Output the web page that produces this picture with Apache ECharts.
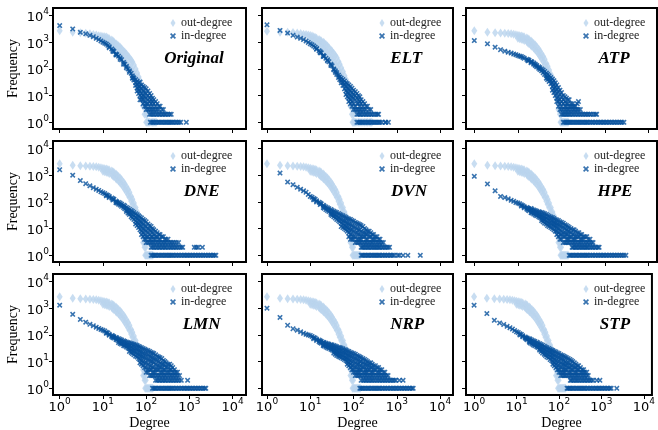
<!DOCTYPE html>
<html>
<head>
<meta charset="utf-8">
<script src="https://cdn.jsdelivr.net/npm/echarts@6/dist/echarts.min.js"></script>
<style>
  html, body { margin: 0; padding: 0; background: #fff; }
  #chart { width: 658px; height: 430px; }
</style>
</head>
<body>
<div id="chart"></div>
<script>
// Degree distributions.
// Columns are [degree, [frequencies seen at that degree]];
// "...Twos" / "...Ones" list the degrees whose frequency is 2 / 1.

const tickValues = [1, 10, 100, 1000, 10000];
const panelNames = ["Original", "ELT", "ATP", "DNE", "DVN", "HPE", "LMN", "NRP", "STP"];

const originalOut = [
  [1, [2700]], [2, [2350]], [3, [2250]], [4, [2150]], [5, [2050]], [6, [1950]], [7, [1850]], [8, [1750]], [9, [1700]],
  [10, [1650, 1300]], [11, [1600, 1200]], [12, [1550, 1100]], [13, [1450, 1000]], [14, [1350, 900]], [16, [1200, 750]],
  [17, [1100, 680]], [18, [1020, 600]], [20, [880, 500]], [21, [820, 460]], [23, [740, 400]], [25, [650, 350]],
  [27, [570, 300]], [30, [470, 240]], [32, [420, 210]], [35, [360, 170]], [38, [300, 140]], [41, [260, 120]],
  [45, [210, 95]], [48, [180, 80]], [52, [140, 65]], [57, [100, 50]], [62, [70, 35]], [67, [50, 25]], [72, [36, 16]],
  [78, [24, 10]], [85, [14, 6, 4]], [92, [9, 4, 2]], [100, [5, 3, 2]], [105, [2]]
];
const originalOutOnes = [100, 105, 110, 115, 120, 130, 140, 150, 160, 170];

const originalIn = [
  [1, [4200]], [2, [3150]], [3, [2350]], [4, [2050]], [5, [1800]], [6, [1600]], [7, [1400]], [8, [1250]], [9, [1120]], [10, [1000]],
  [11, [920]], [12, [850]], [13, [760]], [14, [680, 620]], [16, [560]], [17, [500, 450]], [18, [450]], [20, [365, 330]],
  [21, [340]], [23, [300]], [25, [260, 230]], [27, [220]], [30, [175, 150]], [32, [150]], [35, [125, 110]], [38, [100]],
  [41, [85, 75]], [45, [68]], [48, [55, 45]], [50, [48]], [52, [45, 38]], [57, [40, 30, 24]], [62, [35, 26, 19, 15]],
  [67, [30, 22, 16, 12]], [72, [32, 22, 15, 10, 7]], [78, [25, 18, 12, 9, 7]], [85, [22, 15, 10, 7, 5]],
  [92, [20, 13, 9, 6, 4]], [100, [18, 12, 8, 5, 4, 3]], [110, [15, 10, 7, 5, 3]], [120, [12, 8, 6, 4, 3]],
  [130, [10, 7, 5, 3]], [140, [8, 6, 4, 3]], [150, [7, 5, 3]], [165, [6, 4, 3]], [180, [5, 3]], [195, [4, 3]],
  [210, [4]], [230, [3]], [250, [3]]
];
const originalInTwos = [120, 130, 140, 150, 165, 180, 195, 210, 230, 250, 270, 290, 320, 350, 380];
const originalInOnes = [125, 135, 145, 155, 170, 185, 200, 215, 230, 250, 270, 290, 310, 335, 360, 385, 410, 450, 490, 530, 580, 630, 850];

const eltOut = [
  [1, [2570]], [2, [2350]], [3, [2350]], [4, [2300]], [5, [2200]], [6, [2100]], [7, [2000]], [8, [1950]], [9, [1850]],
  [10, [1780, 1350]], [11, [1700, 1250]], [12, [1600, 1150]], [13, [1500, 1050]], [14, [1400, 950]], [16, [1250, 820]],
  [17, [1150, 740]], [18, [1100, 680]], [20, [1000, 560]], [21, [930, 520]], [23, [820, 450]], [25, [720, 380]],
  [27, [620, 320]], [30, [510, 260]], [32, [450, 225]], [35, [380, 180]], [38, [310, 145]], [41, [260, 120]],
  [45, [190, 90]], [48, [150, 72]], [52, [110, 56]], [57, [80, 40]], [62, [56, 28]], [67, [40, 18]], [72, [28, 12]],
  [78, [18, 8]], [85, [12, 6, 4]], [92, [7, 4, 2]], [100, [4, 3, 2]]
];
const eltOutOnes = [95, 100, 105, 110, 120, 130, 140, 150, 165, 180, 195, 210, 230, 250, 265];

const eltIn = [
  [1, [4450]], [2, [2750]], [3, [2200]], [4, [1800]], [5, [1550]], [6, [1400]], [7, [1250]], [8, [1100]], [9, [980]], [10, [870]],
  [11, [800]], [12, [720]], [13, [650]], [14, [580, 540]], [16, [480]], [17, [440, 400]], [18, [400]], [20, [320, 290]],
  [21, [300]], [23, [250]], [25, [220, 200]], [27, [185]], [30, [150, 135]], [32, [130]], [35, [100, 92]], [38, [85, 75]],
  [41, [72, 62]], [45, [58, 48]], [48, [50, 40]], [52, [45, 36, 30]], [57, [40, 30, 24]], [62, [35, 26, 18]],
  [67, [30, 22, 15, 11]], [72, [28, 19, 13, 9]], [78, [25, 17, 12, 8, 6]], [85, [22, 15, 10, 7, 5]],
  [92, [19, 13, 9, 6, 4]], [100, [16, 11, 8, 5, 3]], [110, [14, 10, 7, 4, 3]], [120, [12, 8, 5, 3]],
  [130, [10, 7, 5, 3]], [140, [9, 6, 4, 3]], [150, [7, 5, 3]], [165, [6, 4, 3]], [180, [5, 3]], [195, [4, 3]],
  [210, [4]], [230, [3]], [250, [3]]
];
const eltInTwos = [120, 130, 140, 150, 165, 180, 195, 210, 230, 250, 270, 300, 330, 360, 380];
const eltInOnes = [120, 130, 140, 150, 160, 170, 185, 200, 215, 230, 250, 270, 290, 310, 335, 360, 385, 410, 450, 540, 560, 640];

// out-degree looks the same in every perturbed panel
const perturbedOut = [
  [1, [2700]], [2, [2350]], [3, [2250]], [4, [2200]], [5, [2150]], [6, [2100]], [7, [2050]], [8, [2000]], [9, [1900]],
  [10, [1800, 1400]], [11, [1750, 1350]], [12, [1700, 1300]], [13, [1650, 1250]], [14, [1550, 1150]], [16, [1450, 1050]],
  [17, [1350, 950]], [18, [1250, 880]], [20, [1100, 750]], [21, [1020, 700]], [23, [900, 600]], [25, [780, 520]],
  [27, [680, 450]], [30, [540, 360]], [32, [460, 300]], [35, [360, 240]], [38, [290, 190]], [41, [230, 150]],
  [45, [160, 105]], [48, [125, 82]], [52, [90, 60]], [57, [62, 42]], [62, [42, 28]], [67, [30, 19]], [72, [21, 13]],
  [78, [14, 8]], [85, [8, 5, 3]], [92, [4, 3, 2]], [98, [2]]
];
const perturbedOutOnes = [95, 100, 105, 110, 116, 122, 128, 135, 142];

const atpIn = [
  [1, [1150]], [2, [870]], [3, [650]], [4, [525]], [5, [460]], [6, [420]], [7, [390]], [8, [360]], [9, [340]], [10, [316]],
  [11, [300]], [12, [290]], [13, [270]], [14, [250]], [16, [230]], [17, [220, 200]], [18, [210]], [20, [190, 170]],
  [21, [180]], [23, [165, 150]], [25, [150, 135]], [27, [135, 120]], [30, [120, 105]], [32, [110, 95]], [35, [100, 85]],
  [38, [90, 72]], [41, [80, 62]], [45, [70, 55, 45]], [48, [62, 48, 40]], [52, [55, 42, 34]], [57, [48, 36, 28]],
  [62, [42, 30, 22, 16]], [67, [36, 25, 18, 13]], [72, [30, 21, 15, 10]], [78, [25, 17, 12, 8, 6]],
  [85, [20, 14, 9, 6, 4]], [92, [16, 11, 7, 5, 3]], [100, [13, 9, 6, 4, 3]], [110, [10, 7, 5, 3]], [120, [9, 6, 4, 3]],
  [130, [8, 5, 4, 3]], [140, [7, 5, 3]], [150, [7, 4, 3]], [165, [5, 4, 3]], [180, [5, 4, 3]], [195, [4, 3]],
  [210, [4, 3]], [230, [5, 3]], [245, [6, 3]], [270, [3]]
];
const atpInTwos = [100, 108, 116, 125, 135, 145, 155, 170, 185, 200, 220, 240, 260, 285, 310, 340, 370, 400, 440, 480, 540, 600, 640];
const atpInOnes = [110, 118, 126, 135, 145, 155, 165, 178, 190, 205, 220, 235, 250, 270, 290, 310, 335, 360, 385, 410, 450,
  490, 530, 580, 630, 690, 750, 810, 880, 950, 1030, 1120, 1220, 1330, 1450, 1580, 1720, 1880, 2050, 2250, 2450, 2700];

const dneIn = [
  [1, [1600]], [2, [1000]], [3, [630]], [4, [480]], [5, [400]], [6, [340]], [7, [300]], [8, [270]], [9, [240]], [10, [220]],
  [11, [205]], [12, [185, 170]], [13, [175]], [14, [160, 145]], [16, [140]], [17, [130, 118]], [18, [125]], [20, [107, 95]],
  [21, [100, 90]], [23, [95, 82]], [25, [90, 76]], [27, [82, 68]], [30, [75, 62]], [32, [70, 56]], [35, [62, 50, 44]],
  [38, [58, 46, 38]], [41, [52, 40, 34]], [45, [48, 36, 28]], [48, [44, 33, 25]], [52, [40, 30, 22]],
  [57, [36, 26, 19, 15]], [62, [33, 24, 17, 13]], [67, [30, 21, 15, 11]], [72, [27, 19, 13, 9]], [78, [25, 17, 12, 8, 6]],
  [85, [22, 15, 10, 7, 5]], [92, [20, 13, 9, 6, 4]], [100, [18, 12, 8, 5, 4, 3]], [110, [15, 10, 7, 5, 3]],
  [120, [13, 9, 6, 4, 3]], [130, [12, 8, 5, 4, 3]], [140, [10, 7, 5, 3]], [150, [9, 6, 4, 3]], [165, [8, 5, 4, 3]],
  [180, [7, 5, 3]], [195, [6, 4, 3]], [210, [6, 4, 3]], [230, [5, 3]], [250, [5, 3]], [270, [4, 3]], [290, [4, 3]],
  [320, [4, 3]], [350, [3]], [380, [3]], [410, [3]], [450, [3]], [500, [3]], [560, [3]]
];
const dneInTwos = [130, 140, 150, 165, 180, 195, 210, 230, 250, 270, 290, 320, 350, 380, 410, 450, 490, 530, 590, 650, 700,
  1300, 1450, 1600, 2000];
const dneInOnes = [130, 140, 150, 160, 170, 185, 200, 215, 230, 250, 270, 290, 310, 335, 360, 385, 410, 450, 490, 530, 580,
  630, 690, 750, 810, 880, 950, 1030, 1120, 1220, 1330, 1450, 1580, 1720, 1880, 2050, 2250, 2450, 2700, 2950, 3200, 3500,
  3800, 4100];

const dvnIn = [
  [2, [1200]], [3, [550]], [4, [440]], [5, [350]], [6, [300]], [7, [260]], [8, [230]], [9, [190]], [10, [160]],
  [11, [150]], [12, [135, 120]], [13, [125]], [14, [110, 100]], [16, [98]], [17, [90, 80]], [18, [85]], [20, [75, 62]],
  [21, [70, 58]], [23, [65, 52]], [25, [60, 48]], [27, [56, 44]], [30, [52, 40, 34]], [32, [48, 37, 31]],
  [35, [45, 34, 28]], [38, [42, 31, 25]], [41, [40, 29, 22]], [45, [37, 26, 20]], [48, [34, 24, 18]],
  [52, [32, 22, 16, 12]], [57, [30, 20, 15, 11]], [62, [28, 19, 13, 10]], [67, [26, 17, 12, 9]], [72, [24, 16, 11, 8]],
  [78, [23, 15, 10, 7, 5]], [85, [22, 14, 9, 6, 4]], [92, [20, 13, 9, 6, 4]], [100, [19, 12, 8, 5, 4]],
  [110, [17, 11, 7, 5, 3]], [120, [16, 10, 7, 4, 3]], [130, [15, 9, 6, 4, 3]], [140, [14, 9, 6, 4, 3]],
  [150, [13, 8, 5, 4, 3]], [165, [12, 7, 5, 3]], [180, [10, 7, 5, 3]], [195, [9, 6, 4, 3]], [210, [8, 6, 4, 3]],
  [230, [8, 5, 3]], [250, [7, 5, 3]], [270, [6, 4, 3]], [290, [6, 4, 3]], [320, [5, 4, 3]], [350, [5, 3]],
  [380, [4, 3]], [410, [4, 3]], [450, [3]], [490, [3]]
];
const dvnInTwos = [150, 160, 170, 185, 200, 215, 230, 250, 270, 290, 310, 335, 360, 385, 410, 450, 490, 530, 580, 630, 680];
const dvnInOnes = [150, 160, 170, 185, 200, 215, 230, 250, 270, 290, 310, 335, 360, 385, 410, 450, 490, 530, 580, 630, 690,
  750, 810, 880, 1050, 1150, 1400, 1800, 3500];

const hpeIn = [
  [1, [910]], [2, [470]], [3, [260]], [4, [160]], [5, [145]], [6, [130]], [7, [115]], [8, [105]], [9, [95]], [10, [90]],
  [11, [85]], [12, [78, 70]], [13, [72]], [14, [66, 60]], [16, [62, 54]], [17, [58, 50]], [18, [55, 47]],
  [20, [57, 48, 40]], [21, [52, 44, 38]], [23, [50, 41, 35]], [25, [48, 39, 32]], [27, [45, 37, 30]], [30, [43, 34, 28]],
  [32, [41, 32, 26]], [35, [40, 30, 24, 20]], [38, [38, 28, 22, 18]], [41, [36, 27, 21, 16]], [45, [34, 25, 19, 15]],
  [48, [31, 23, 17, 13]], [52, [29, 21, 16, 12]], [57, [27, 20, 15, 11]], [62, [26, 19, 14, 10]], [67, [24, 17, 13, 9]],
  [72, [22, 16, 12, 8]], [78, [21, 15, 11, 8, 6]], [85, [20, 14, 10, 7, 5]], [92, [18, 13, 9, 6, 4]],
  [100, [17, 12, 8, 6, 4]], [110, [16, 11, 7, 5, 3]], [120, [14, 10, 7, 5, 3]], [130, [13, 9, 6, 4, 3]],
  [140, [12, 8, 6, 4, 3]], [150, [11, 8, 5, 4, 3]], [165, [10, 7, 5, 3]], [180, [9, 6, 4, 3]], [195, [9, 6, 4, 3]],
  [210, [8, 5, 4, 3]], [230, [7, 5, 3]], [250, [7, 5, 3]], [270, [6, 4, 3]], [290, [6, 4, 3]], [320, [5, 4, 3]],
  [350, [5, 3]], [380, [5, 3]], [410, [4, 3]], [450, [4, 3]], [490, [3]], [530, [3]]
];
const hpeInTwos = [175, 185, 200, 215, 230, 250, 270, 290, 310, 335, 360, 385, 410, 450, 490, 530, 580, 630, 690, 730];
const hpeInOnes = [150, 160, 170, 185, 200, 215, 230, 250, 270, 290, 310, 335, 360, 385, 410, 450, 490, 530, 580, 630, 690,
  750, 810, 880, 950, 1030, 1120, 1220, 1330, 1450, 1580, 1720, 1880, 2050, 2250, 2450, 2700, 3000];

const lmnIn = [
  [1, [1300]], [2, [590]], [3, [380]], [4, [300]], [5, [250]], [6, [220]], [7, [195]], [8, [175]], [9, [160]], [10, [150]],
  [11, [140]], [12, [125, 115]], [13, [118]], [14, [105, 98]], [16, [95, 86]], [17, [90, 80]], [18, [85, 76]],
  [20, [80, 68]], [21, [76, 65]], [23, [72, 60, 52]], [25, [68, 56, 48]], [27, [64, 52, 45]], [30, [60, 48, 40]],
  [32, [57, 45, 38]], [35, [54, 42, 35]], [38, [52, 40, 32]], [41, [50, 38, 30, 24]], [45, [48, 35, 27, 22]],
  [48, [46, 33, 25, 20]], [52, [44, 31, 24, 18]], [57, [42, 30, 22, 16]], [62, [40, 28, 20, 15]], [67, [37, 26, 18, 13]],
  [72, [35, 24, 17, 12, 9]], [78, [33, 23, 16, 11, 8]], [85, [31, 21, 15, 10, 7]], [92, [29, 20, 14, 9, 6]],
  [100, [27, 19, 13, 9, 6, 4]], [110, [26, 18, 12, 8, 5, 4]], [120, [24, 16, 11, 7, 5, 3]], [130, [22, 15, 10, 7, 5, 3]],
  [140, [21, 14, 10, 6, 4, 3]], [150, [20, 13, 9, 6, 4, 3]], [165, [18, 12, 8, 5, 4, 3]], [180, [16, 11, 7, 5, 3]],
  [195, [15, 10, 7, 5, 3]], [210, [14, 9, 6, 4, 3]], [230, [13, 8, 6, 4, 3]], [250, [11, 8, 5, 4, 3]],
  [270, [10, 7, 5, 3]], [290, [9, 6, 4, 3]], [320, [8, 6, 4, 3]], [350, [8, 5, 4, 3]], [380, [7, 5, 3]],
  [410, [6, 4, 3]], [450, [5, 4, 3]], [490, [4, 3]], [530, [4, 3]], [590, [3]]
];
const lmnInTwos = [165, 180, 195, 210, 230, 250, 270, 290, 320, 350, 380, 410, 450, 490, 530, 580, 650, 910];
const lmnInOnes = [140, 150, 160, 170, 185, 200, 215, 230, 250, 270, 290, 310, 335, 360, 385, 410, 450, 490, 530, 580, 630,
  690, 750, 810, 880, 950, 1030, 1120, 1220, 1330, 1450, 1580, 1720, 1880, 2050, 2250, 2400];

const nrpIn = [
  [1, [1000]], [2, [450]], [3, [230]], [4, [170]], [5, [150]], [6, [130]], [7, [115]], [8, [105]], [9, [100]], [10, [95]],
  [11, [88]], [12, [80, 72]], [13, [76]], [14, [68, 62]], [16, [64, 56]], [17, [60, 52]], [18, [57, 49]],
  [20, [53, 45, 40]], [21, [51, 43, 38]], [23, [49, 41, 35]], [25, [47, 39, 33]], [27, [45, 37, 31]], [30, [43, 34, 29]],
  [32, [42, 33, 27]], [35, [40, 31, 25, 21]], [38, [38, 29, 23, 19]], [41, [36, 27, 21, 17]], [45, [34, 26, 20, 16]],
  [48, [33, 25, 19, 15]], [52, [32, 24, 18, 14]], [57, [30, 22, 17, 13]], [62, [28, 21, 15, 12]], [67, [27, 20, 14, 11]],
  [72, [25, 18, 13, 10, 8]], [78, [24, 17, 12, 9, 7]], [85, [22, 16, 11, 8, 6]], [92, [21, 15, 10, 7, 5]],
  [100, [20, 14, 10, 7, 5, 4]], [110, [19, 13, 9, 6, 4, 3]], [120, [17, 12, 8, 6, 4, 3]], [130, [16, 11, 8, 5, 4, 3]],
  [140, [15, 10, 7, 5, 4, 3]], [150, [14, 10, 7, 5, 3]], [165, [13, 9, 6, 4, 3]], [180, [12, 8, 6, 4, 3]],
  [195, [11, 8, 5, 4, 3]], [210, [10, 7, 5, 4, 3]], [230, [9, 7, 5, 3]], [250, [9, 6, 4, 3]], [270, [8, 6, 4, 3]],
  [290, [7, 5, 4, 3]], [320, [7, 5, 3]], [350, [6, 4, 3]], [380, [6, 4, 3]], [410, [5, 4, 3]], [450, [5, 3]],
  [490, [4, 3]], [530, [4, 3]], [580, [3]], [630, [3]]
];
const nrpInTwos = [150, 165, 180, 195, 210, 230, 250, 270, 290, 320, 350, 380, 410, 450, 490, 530, 580, 630, 690, 750, 810,
  880, 950, 1150, 1400];
const nrpInOnes = [140, 150, 160, 170, 185, 200, 215, 230, 250, 270, 290, 310, 335, 360, 385, 410, 450, 490, 530, 580, 630,
  690, 750, 810, 880, 950, 1030, 1120, 1220, 1330, 1450, 1580, 1720, 1880, 2050, 2250, 2400];

const stpIn = [
  [1, [1300]], [2, [630]], [3, [350]], [4, [280]], [5, [245]], [6, [210]], [7, [185]], [8, [165]], [9, [145]], [10, [130]],
  [11, [122]], [12, [110, 100]], [13, [104]], [14, [92, 85]], [16, [84, 76]], [17, [78, 70]], [18, [75, 66]],
  [20, [72, 60, 54]], [21, [68, 57, 50]], [23, [64, 53, 46]], [25, [60, 49, 42]], [27, [57, 46, 39]], [30, [53, 42, 36]],
  [32, [50, 40, 34]], [35, [47, 37, 31, 27]], [38, [44, 35, 29, 24]], [41, [41, 32, 26, 21]], [45, [38, 29, 23, 19]],
  [48, [35, 27, 21, 17]], [52, [33, 25, 19, 15]], [57, [31, 23, 18, 14]], [62, [29, 22, 16, 12]], [67, [27, 20, 15, 11]],
  [72, [26, 19, 14, 10, 8]], [78, [24, 17, 12, 9, 7]], [85, [23, 16, 11, 8, 6]], [92, [21, 15, 10, 7, 5]],
  [100, [20, 14, 10, 7, 5, 4]], [110, [18, 13, 9, 6, 4, 3]], [120, [17, 12, 8, 6, 4, 3]], [130, [16, 11, 8, 5, 4, 3]],
  [140, [15, 10, 7, 5, 4, 3]], [150, [14, 9, 7, 5, 3]], [165, [13, 9, 6, 4, 3]], [180, [12, 8, 6, 4, 3]],
  [195, [11, 7, 5, 4, 3]], [210, [10, 7, 5, 3]], [230, [9, 6, 4, 3]], [250, [8, 6, 4, 3]], [270, [7, 5, 4, 3]],
  [290, [7, 5, 3]], [320, [6, 4, 3]], [350, [5, 4, 3]], [380, [5, 4, 3]], [410, [4, 3]], [450, [4, 3]], [490, [3]]
];
const stpInTwos = [185, 195, 210, 230, 250, 270, 290, 320, 350, 380, 410, 450, 490, 530, 580, 640, 780, 920];
const stpInOnes = [155, 165, 175, 185, 200, 215, 230, 250, 270, 290, 310, 335, 360, 385, 410, 450, 490, 530, 580, 630, 690,
  750, 810, 880, 950, 1030, 1120, 1220, 1330, 1450, 1580, 1700, 2300];

const outCols = [originalOut, eltOut, perturbedOut, perturbedOut, perturbedOut, perturbedOut, perturbedOut, perturbedOut, perturbedOut];
const outOnes = [originalOutOnes, eltOutOnes, perturbedOutOnes, perturbedOutOnes, perturbedOutOnes, perturbedOutOnes, perturbedOutOnes, perturbedOutOnes, perturbedOutOnes];
const inCols = [originalIn, eltIn, atpIn, dneIn, dvnIn, hpeIn, lmnIn, nrpIn, stpIn];
const inTwos = [originalInTwos, eltInTwos, atpInTwos, dneInTwos, dvnInTwos, hpeInTwos, lmnInTwos, nrpInTwos, stpInTwos];
const inOnes = [originalInOnes, eltInOnes, atpInOnes, dneInOnes, dvnInOnes, hpeInOnes, lmnInOnes, nrpInOnes, stpInOnes];

// Layout (pixels) and axis extents.
const colLeft = [53, 262, 466];
const colWidth = [193, 191, 191];
const rowTop = [8, 141, 274];
const rowHeight = 121;
const xMin = [0.70, 0.767, 0.645];
const xMax = [20400, 19950, 15500];
const yMin = 0.5623;
const yMax = 19055;
const labelX = [0.73, 0.755, 0.775, 0.77, 0.77, 0.78, 0.77, 0.76, 0.78];

const outColor = "#bad4ed";
const inColor = "#08519c";
const serif = "Liberation Serif";
const diamondPath = "path://M5,0L10,8L5,16L0,8Z";
const crossPath = "path://M0,2L2,0L5,3L8,0L10,2L7,5L10,8L8,10L5,7L2,10L0,8L3,5Z";

// unpack the columns / rows into [degree, frequency] points
let toPoints = (cols, twos, ones) => {
  let pts = [];
  cols.forEach((c) => c[1].forEach((f) => pts.push([c[0], f])));
  (twos || []).forEach((d) => pts.push([d, 2]));
  (ones || []).forEach((d) => pts.push([d, 1]));
  return pts;
};

let powLabel = (v) => "{b|10}{s|" + Math.round(Math.log10(v)) + "}";
let powRich = {
  b: { fontFamily: "DejaVu Sans", fontSize: 13, lineHeight: 17, verticalAlign: "bottom", color: "#000" },
  s: { fontFamily: "DejaVu Sans", fontSize: 9, lineHeight: 17, verticalAlign: "top", color: "#000" },
};

let grid = [], xAxis = [], yAxis = [], outSeries = [], inSeries = [], legend = [], graphic = [];

panelNames.forEach((name, i) => {
  let row = Math.floor(i / 3);
  let col = i % 3;

  grid.push({
    left: colLeft[col], top: rowTop[row], width: colWidth[col], height: rowHeight,
    show: true, borderColor: "#000", borderWidth: 2,
  });

  xAxis.push({
    type: "log", logBase: 10, gridIndex: i, min: xMin[col], max: xMax[col],
    axisLine: { show: false },
    axisTick: { show: true, length: 4, customValues: tickValues, lineStyle: { color: "#000", width: 1 } },
    axisLabel: { show: row === 2, customValues: tickValues, formatter: powLabel, rich: powRich, margin: 2 },
    splitLine: { show: false },
    minorTick: { show: false },
  });

  yAxis.push({
    type: "log", logBase: 10, gridIndex: i, min: yMin, max: yMax,
    axisLine: { show: false },
    axisTick: { show: true, length: 4, customValues: tickValues, lineStyle: { color: "#000", width: 1 } },
    axisLabel: { show: col === 0, customValues: tickValues, formatter: powLabel, rich: powRich, margin: 4 },
    splitLine: { show: false },
    minorTick: { show: false },
  });

  outSeries.push({
    type: "scatter", name: "out-degree", xAxisIndex: i, yAxisIndex: i,
    data: toPoints(outCols[i], null, outOnes[i]),
    symbol: diamondPath, symbolSize: [6, 9], itemStyle: { color: outColor }, silent: true,
  });
  inSeries.push({
    type: "scatter", name: "in-degree", xAxisIndex: i, yAxisIndex: i,
    data: toPoints(inCols[i], inTwos[i], inOnes[i]),
    symbol: crossPath, symbolSize: 5.5, itemStyle: { color: inColor }, silent: true,
  });

  legend.push({
    left: colLeft[col] + 117, top: rowTop[row] + 9, orient: "vertical",
    itemWidth: 6, itemHeight: 8, itemGap: 1, itemTextGap: 5, padding: 0,
    selectedMode: false, symbolKeepAspect: true,
    textStyle: { fontFamily: serif, fontSize: 12, color: "#222", lineHeight: 12 },
    data: [{ name: "out-degree", icon: diamondPath }, { name: "in-degree", icon: crossPath }],
  });

  graphic.push({
    type: "text",
    x: colLeft[col] + labelX[i] * colWidth[col],
    y: rowTop[row] + 51,
    style: {
      text: name, font: "italic bold 17px " + serif, fill: "#000",
      align: "center", verticalAlign: "middle", textAlign: "center", textVerticalAlign: "middle",
    },
  });
});

// Axis titles.
rowTop.forEach((top) => {
  graphic.push({
    type: "text", x: 13, y: top + rowHeight / 2, rotation: Math.PI / 2,
    style: {
      text: "Frequency", font: "14px " + serif, fill: "#000",
      align: "center", verticalAlign: "middle", textAlign: "center", textVerticalAlign: "middle",
    },
  });
});
colLeft.forEach((left, c) => {
  graphic.push({
    type: "text", x: left + colWidth[c] / 2, y: 423,
    style: {
      text: "Degree", font: "14px " + serif, fill: "#000",
      align: "center", verticalAlign: "middle", textAlign: "center", textVerticalAlign: "middle",
    },
  });
});

let chart = echarts.init(document.getElementById("chart"), null, { renderer: "canvas" });
chart.setOption({
  animation: false,
  backgroundColor: "#fff",
  grid: grid,
  xAxis: xAxis,
  yAxis: yAxis,
  legend: legend,
  graphic: graphic,
  series: outSeries.concat(inSeries),
});
</script>
</body>
</html>
